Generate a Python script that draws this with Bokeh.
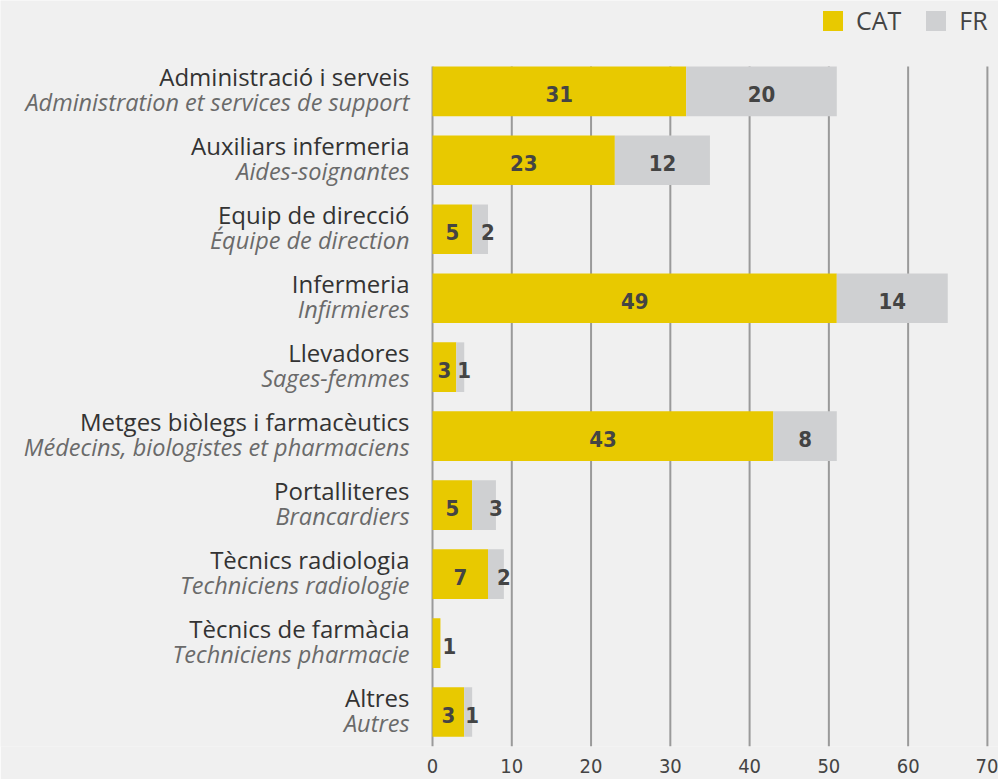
from bokeh.plotting import figure
from bokeh.models import ColumnDataSource, Range1d, FixedTicker, Legend, LegendItem
from bokeh.core.properties import value
from bokeh.embed import file_html
from bokeh.resources import INLINE

# ---- data ----
categories_ca = ["Administració i serveis", "Auxiliars infermeria", "Equip de direcció",
                 "Infermeria", "Llevadores", "Metges biòlegs i farmacèutics",
                 "Portalliteres", "Tècnics radiologia", "Tècnics de farmàcia", "Altres"]
categories_fr = ["Administration et services de support", "Aides-soignantes",
                 "Équipe de direction", "Infirmieres", "Sages-femmes",
                 "Médecins, biologistes et pharmaciens", "Brancardiers",
                 "Techniciens radiologie", "Techniciens pharmacie", "Autres"]
cat_bar = [32, 23, 5, 51, 3, 43, 5, 7, 1, 4]     # bar lengths as drawn
fr_bar = [19, 12, 2, 14, 1, 8, 3, 2, 0, 1]
cat_text = ["31", "23", "5", "49", "3", "43", "5", "7", "1", "3"]   # printed values
fr_text = ["20", "12", "2", "14", "1", "8", "3", "2", "", "1"]
x_ticks = [0, 10, 20, 30, 40, 50, 60, 70]

YELLOW = "#e8c900"
GREY = "#cfd0d2"
BG = "#f0f0f0"
NUM_FONT = "DejaVu Sans Condensed"
LAB_FONT = "Open Sans"

n = len(categories_ca)
ys = list(range(n))
total = [c + f for c, f in zip(cat_bar, fr_bar)]
BAR_H = 0.72
Y_TOP, Y_BOTTOM = -BAR_H / 2, n - 0.5

# label placement rules
cat_lx, cat_off = [], []
for c in cat_bar:
    if c < 2:
        cat_lx.append(c); cat_off.append(9)
    else:
        cat_lx.append(c / 2); cat_off.append(0)
fr_lx = [c + f if f < 4 else c + f / 2 for c, f in zip(cat_bar, fr_bar)]

src = ColumnDataSource(dict(y=ys, cat=cat_bar, total=total, ca=categories_ca, fr=categories_fr,
                            cat_text=cat_text, fr_text=fr_text, cat_lx=cat_lx, cat_off=cat_off,
                            fr_lx=fr_lx, zero=[0] * n))
grid_src = ColumnDataSource(dict(x=x_ticks, y0=[Y_BOTTOM] * len(x_ticks), y1=[Y_TOP] * len(x_ticks)))

# frame spans the whole figure except the tick-label strip; negative x holds the category labels,
# the space above the first bar holds the legend
p = figure(width=998, height=779, output_backend="svg", toolbar_location=None,
           x_range=Range1d(-54.5, 71.4), y_range=Range1d(Y_BOTTOM, Y_TOP - 66 / 69.0),
           min_border_left=0, min_border_right=0, min_border_top=0, min_border_bottom=33)
p.background_fill_color = BG
p.border_fill_color = BG
p.outline_line_color = None

p.yaxis.visible = False
p.grid.grid_line_color = None
p.xaxis.ticker = FixedTicker(ticks=x_ticks)
p.xaxis.axis_line_color = None
p.xaxis.major_tick_line_color = None
p.xaxis.minor_tick_line_color = None
p.xaxis.major_label_text_font = NUM_FONT
p.xaxis.major_label_text_font_size = "20px"
p.xaxis.major_label_text_color = "#444444"
p.xaxis.major_label_standoff = 6

# vertical grid lines at the ticks, from the top of the first bar down to the axis
p.segment(x0="x", x1="x", y0="y0", y1="y1", source=grid_src, line_color="#9a9a9a", line_width=2)

r1 = p.hbar(y="y", left="zero", right="cat", height=BAR_H, source=src,
            fill_color=YELLOW, line_color=None)
r2 = p.hbar(y="y", left="cat", right="total", height=BAR_H, source=src,
            fill_color=GREY, line_color=None)

# values on the bars
p.text(x="cat_lx", y="y", text="cat_text", x_offset="cat_off", y_offset=3, source=src,
       text_align="center", text_baseline="middle", text_font=value(NUM_FONT),
       text_font_style="bold", text_font_size="22px", text_color="#444444")
p.text(x="fr_lx", y="y", text="fr_text", y_offset=3, source=src,
       text_align="center", text_baseline="middle", text_font=value(NUM_FONT),
       text_font_style="bold", text_font_size="22px", text_color="#444444")

# two-line category labels
p.text(x="zero", y="y", text="ca", x_offset=-23, y_offset=-15, source=src,
       text_align="right", text_baseline="middle", text_font=value(LAB_FONT),
       text_font_size="24px", text_color="#333333")
p.text(x="zero", y="y", text="fr", x_offset=-23, y_offset=11, source=src,
       text_align="right", text_baseline="middle", text_font=value(LAB_FONT),
       text_font_style="italic", text_font_size="23.5px", text_color="#6a6a6a")

legend = Legend(items=[LegendItem(label="CAT", renderers=[r1]), LegendItem(label="FR", renderers=[r2])],
                orientation="horizontal", location=(820, 709), padding=0, margin=0,
                spacing=22, glyph_width=25, glyph_height=25, label_standoff=11,
                label_text_font=LAB_FONT, label_text_font_size="25px", label_text_color="#444444",
                background_fill_alpha=0, border_line_alpha=0)
p.add_layout(legend, "center")

open("out.html", "w").write(file_html(p, INLINE))
